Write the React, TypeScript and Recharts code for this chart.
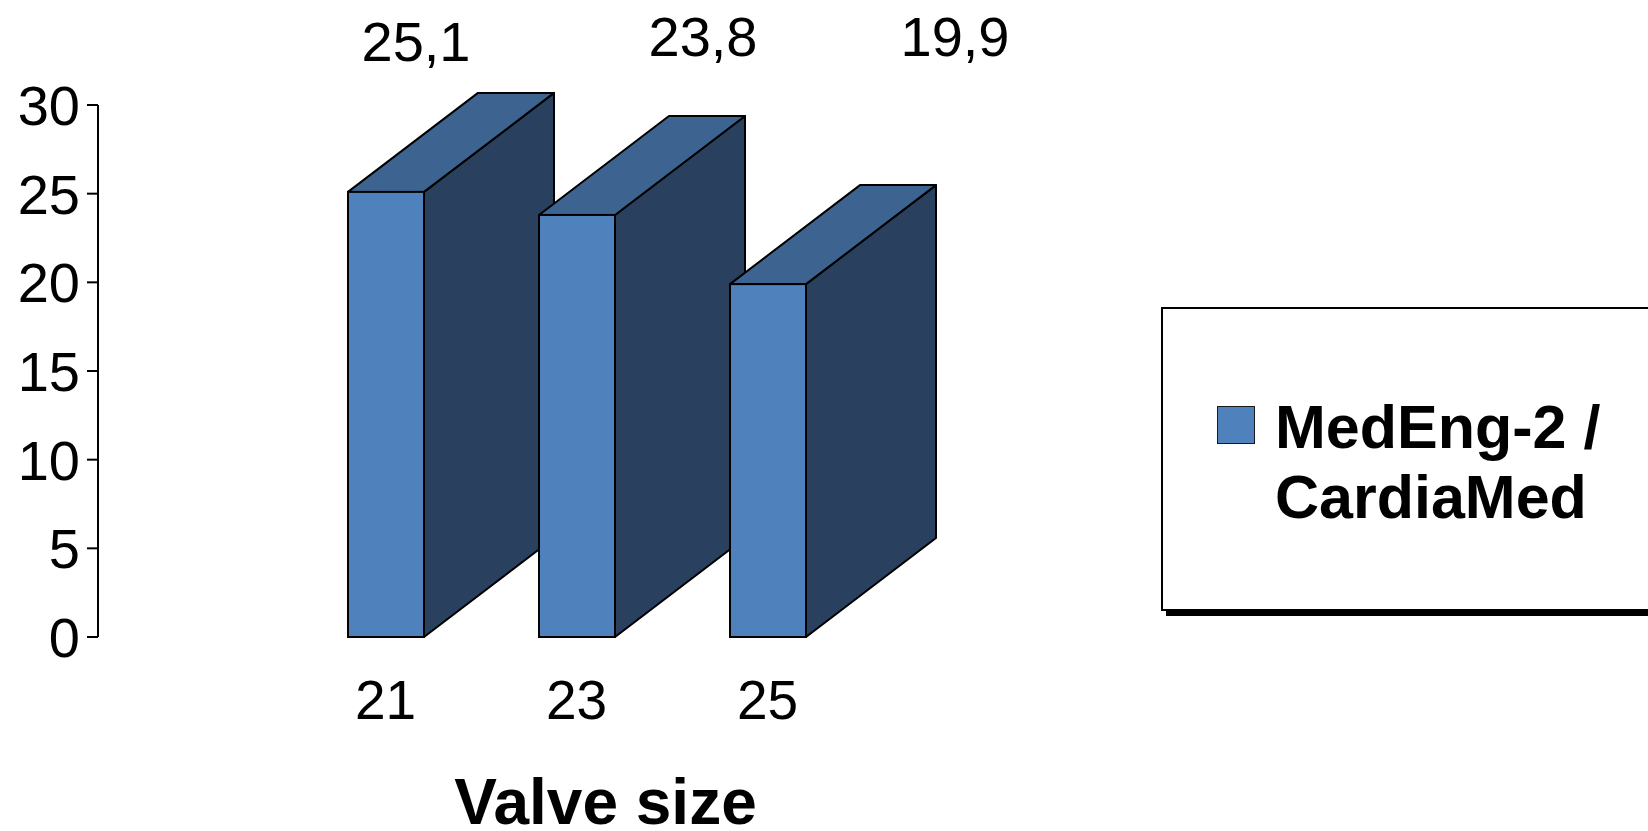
import React from 'react'
import { BarChart, Bar, XAxis, YAxis, Legend } from 'recharts'

// valve sizes on the x axis and the measured value for each
const CATEGORIES = ['21', '23', '25']
const VALUES = [25.1, 23.8, 19.9]
const Y_TICKS = [0, 5, 10, 15, 20, 25, 30]
const SERIES_NAME = 'MedEng-2 / CardiaMed'
const X_TITLE = 'Valve size'

const FONT = '"Liberation Sans", Arial, Helvetica, sans-serif'
const FRONT = '#4F81BD'
const TOP = '#3D6491'
const SIDE = '#29415F'

// depth of the extruded boxes
const DEPTH_X = 130
const DEPTH_Y = -99

// value labels float above the boxes, not quite evenly spaced
const LABEL_LAYOUT = [
    { shift: 30, baseline: 61 },
    { shift: 126, baseline: 56 },
    { shift: 187, baseline: 56 },
]

const data = CATEGORIES.map((size, i) => ({ size, value: VALUES[i] }))

const formatValue = (v: number) => v.toFixed(1).replace('.', ',')

function Box3D(props: any) {
    const { x, y, width, height, index, payload } = props
    const r = x + width
    const b = y + height
    const side = `${r},${y} ${r + DEPTH_X},${y + DEPTH_Y} ${r + DEPTH_X},${b + DEPTH_Y} ${r},${b}`
    const top = `${x},${y} ${x + DEPTH_X},${y + DEPTH_Y} ${r + DEPTH_X},${y + DEPTH_Y} ${r},${y}`
    const lbl = LABEL_LAYOUT[index] || { shift: 0, baseline: y - 20 }
    return (
        <g>
            <polygon points={side} fill={SIDE} stroke="#000" strokeWidth={2} strokeLinejoin="round" />
            <polygon points={top} fill={TOP} stroke="#000" strokeWidth={2} strokeLinejoin="round" />
            <rect x={x} y={y} width={width} height={height} fill={FRONT} stroke="#000" strokeWidth={2} />
            <text
                x={x + width / 2 + lbl.shift}
                y={lbl.baseline}
                textAnchor="middle"
                fontFamily={FONT}
                fontSize={56}
                fill="#000"
            >
                {formatValue(payload.value)}
            </text>
        </g>
    )
}

function SizeTick(props: any) {
    const { x, y, payload } = props
    return (
        <text x={x} y={y + 82} textAnchor="middle" fontFamily={FONT} fontSize={55} fill="#000">
            {payload.value}
        </text>
    )
}

function AxisTitle(props: any) {
    const vb = props.viewBox || {}
    return (
        <text
            x={vb.x + vb.width / 2 + 125}
            y={vb.y + 187}
            textAnchor="middle"
            fontFamily={FONT}
            fontWeight="bold"
            fontSize={64}
            fill="#000"
        >
            {X_TITLE}
        </text>
    )
}

function LegendBox(props: any) {
    const item = (props.payload && props.payload[0]) || { value: SERIES_NAME, color: FRONT }
    const [first, second] = String(item.value).split(' / ')
    return (
        <div
            style={{
                width: 520,
                height: 300,
                border: '2px solid #000',
                boxShadow: '5px 5px 0 #000',
                background: '#fff',
                position: 'relative',
                fontFamily: FONT,
                fontWeight: 'bold',
                fontSize: 61,
                lineHeight: '70px',
                color: '#000',
            }}
        >
            <div
                style={{
                    position: 'absolute',
                    left: 54,
                    top: 97,
                    width: 36,
                    height: 36,
                    background: FRONT,
                    border: '1.5px solid #1a1a1a',
                }}
            />
            <div style={{ position: 'absolute', left: 112, top: 83, whiteSpace: 'nowrap' }}>
                {first} /<br />
                {second}
            </div>
        </div>
    )
}

export default function App() {
    return (
        <div
            style={{
                position: 'fixed',
                left: 0,
                top: 0,
                width: 1648,
                height: 831,
                overflow: 'hidden',
                background: '#fff',
            }}
        >
            <BarChart
                width={1648}
                height={831}
                data={data}
                margin={{ top: 105, right: 785, bottom: 0, left: 0 }}
            >
                <XAxis
                    dataKey="size"
                    height={194}
                    axisLine={false}
                    tickLine={false}
                    tickSize={0}
                    tickMargin={0}
                    padding={{ left: 192, right: 0 }}
                    tick={<SizeTick />}
                    label={<AxisTitle />}
                />
                <YAxis
                    width={98}
                    domain={[0, 30]}
                    ticks={Y_TICKS}
                    interval={0}
                    axisLine={{ stroke: '#000', strokeWidth: 2 }}
                    tickLine={{ stroke: '#000', strokeWidth: 2 }}
                    tickSize={11}
                    tickMargin={7}
                    tick={{ fill: '#000', fontSize: 56, fontFamily: FONT }}
                />
                <Legend
                    layout="horizontal"
                    align="center"
                    verticalAlign="middle"
                    wrapperStyle={{ position: 'absolute', left: 1161, top: 307, width: 540, height: 310 }}
                    content={<LegendBox />}
                />
                <Bar
                    dataKey="value"
                    name={SERIES_NAME}
                    fill={FRONT}
                    barSize={76}
                    shape={<Box3D />}
                    isAnimationActive={false}
                />
            </BarChart>
        </div>
    )
}
